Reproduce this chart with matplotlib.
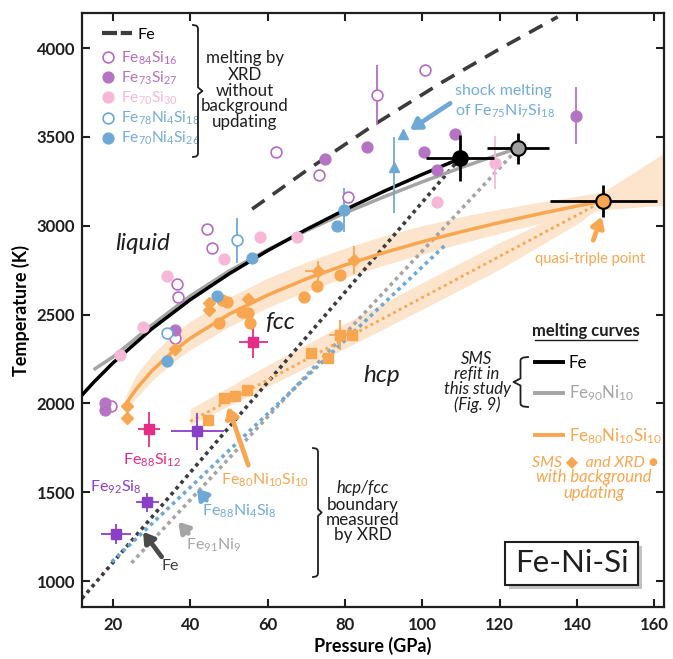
import matplotlib
matplotlib.use("Agg")
import matplotlib.pyplot as plt
from matplotlib.lines import Line2D
from matplotlib.patches import Rectangle

plt.rcParams['font.family'] = ['Lato', 'DejaVu Sans']
plt.rcParams['mathtext.fontset'] = 'custom'
plt.rcParams['mathtext.rm'] = 'Lato'
plt.rcParams['mathtext.it'] = 'Lato:italic'
plt.rcParams['mathtext.bf'] = 'Lato:bold'

W, H = 673, 659

# ---------------- colours ----------------
ORANGE = '#f8a64f'
PEACH = '#fde4cd'
BLUE = '#6ea9d6'
BLUE_TXT = '#74acd9'
GRAY = '#a5a5a5'
DARK = '#3c3c3c'
VIOLET = '#b66cc6'
PURPLE_FILL = '#b574c3'
PINK = '#f6b8d6'
MAGENTA = '#e52d86'
PURPLE = '#8b3fc6'
INK = '#1e1e1e'

# ---------------- melting curves (SMS refit) ----------------
fe_melt_P = [12, 15, 20, 30, 40, 50, 60, 70, 80, 90, 100, 110]
fe_melt_T = [2047, 2119, 2228, 2419, 2584, 2729, 2860, 2979, 3090, 3193, 3289, 3380]
feni_melt_P = [15, 20, 25, 30, 40, 50, 60, 70, 80, 90, 100, 110, 120, 124.8]
feni_melt_T = [2190, 2262, 2350, 2440, 2605, 2745, 2865, 2972, 3072, 3162, 3247, 3327, 3402, 3437]
fns_melt_P = [23.4, 26, 30, 35, 40, 50, 60, 70, 80, 90, 100, 110, 120, 130, 140, 146.8]
fns_melt_T = [2000, 2081, 2182, 2283, 2367, 2502, 2610, 2701, 2779, 2848, 2910, 2966,
              3018, 3066, 3111, 3139]
# uncertainty envelope of the Fe80Ni10Si10 melting curve (extrapolated past the triple point)
fns_band_P = [23.4, 26, 30, 35, 40, 50, 60, 70, 80, 90, 100, 110, 120, 130, 140, 146.8, 162.5]
fns_band_lo = [1960, 2031, 2127, 2223, 2302, 2432, 2540, 2631, 2709, 2778, 2840, 2901,
               2958, 3011, 3061, 3090, 3116]
fns_band_hi = [2045, 2161, 2272, 2378, 2462, 2597, 2705, 2796, 2874, 2943, 3000, 3051,
               3093, 3131, 3166, 3190, 3409]

# Fe melting curve from XRD (dashed)
fe_xrd_P = [56, 70, 88, 105, 120, 135]
fe_xrd_T = [3094, 3310, 3575, 3806, 3995, 4175]

# ---------------- hcp/fcc boundaries (XRD) ----------------
fe_bd_P, fe_bd_T = [12, 109.8], [903, 3381]
feni_bd_P, feni_bd_T = [24.8, 124.8], [1103, 3437]
fenisi_bd_P, fenisi_bd_T = [19.7, 105.9], [1109, 2891]
fns_bd_P, fns_bd_T = [40, 146.8], [1900, 3139]
fns_bd_band_P = [40, 60, 80, 100, 120, 140, 146.8]
fns_bd_band_lo = [1880, 2095, 2310, 2530, 2755, 3010, 3120]
fns_bd_band_hi = [1970, 2215, 2450, 2680, 2905, 3110, 3160]

# ---------------- triple points ----------------
trip_P = [109.8, 124.8, 146.8]
trip_T = [3381, 3437, 3139]
trip_Perr = [8.8, 8.0, 13.9]
trip_Terr = [127, 87, 90]
trip_face = ['black', '#a0a0a0', ORANGE]

# ---------------- melting by XRD without background updating ----------------
fe84si16_P = [19.4, 36.0, 36.6, 36.9, 44.2, 45.5, 62.2, 73.4, 80.7, 88.2, 100.7]
fe84si16_T = [1985, 2370, 2670, 2600, 2981, 2876, 3413, 3285, 3163, 3736, 3876]
fe84si16_err = [0, 0, 0, 0, 0, 0, 0, 0, 0, 169, 0]
fe73si27_P = [17.9, 17.9, 36.0, 74.9, 85.8, 100.5, 103.7, 108.5, 139.7]
fe73si27_T = [2000, 1963, 2413, 3374, 3445, 3417, 3313, 3516, 3619]
fe73si27_err = [0, 0, 0, 0, 0, 0, 0, 0, 160]
fe70si30_P = [21.9, 27.8, 33.9, 48.7, 57.9, 67.7, 103.9, 118.8]
fe70si30_T = [2272, 2431, 2717, 2811, 2935, 2935, 3132, 3355]
fe70si30_err = [0, 0, 0, 0, 0, 0, 0, 150]
fe78ni4si18_P = [33.9, 52.0]
fe78ni4si18_T = [2394, 2919]
fe78ni4si18_err = [0, 127]
fe70ni4si26_P = [33.9, 46.8, 55.9, 77.9, 79.8]
fe70ni4si26_T = [2240, 2604, 2816, 3000, 3088]
fe70ni4si26_err = [0, 0, 0, 0, 122]

# shock melting of Fe75Ni7Si18
shock_P = [92.7, 95.0]
shock_T = [3332, 3516]
shock_err_lo = [262, 0]
shock_err_hi = [169, 0]

# ---------------- Fe-Si hcp/fcc data ----------------
fe92si8_P = [20.8, 28.9, 41.8]
fe92si8_T = [1265, 1443, 1844]
fe92si8_Perr = [4.0, 2.9, 6.9]
fe92si8_Terr = [56, 53, 103]
fe88si12_P = [29.3, 56.3]
fe88si12_T = [1854, 2347]
fe88si12_Perr = [2.8, 3.7]
fe88si12_Terr = [97, 89]

# ---------------- Fe80Ni10Si10 with background updating ----------------
sms_P = [23.7, 23.7, 36.0, 44.9, 44.9, 55.0, 73.1, 82.3]
sms_T = [1985, 1916, 2308, 2563, 2525, 2589, 2745, 2807]
sms_Perr = [0, 0, 1.5, 0, 0, 0, 3.4, 1.5]
sms_Terr = [0, 0, 40, 0, 0, 0, 56, 80]
xrd_liq_P = [47.3, 48.3, 49.6, 53.3, 55.0, 55.4, 69.4, 72.7, 78.7]
xrd_liq_T = [2454, 2585, 2570, 2516, 2507, 2451, 2600, 2661, 2722]
xrd_bd_P = [44.7, 48.6, 51.6, 54.7, 71.2, 75.7, 78.6, 81.8]
xrd_bd_T = [1905, 2031, 2040, 2075, 2283, 2254, 2385, 2383]
xrd_bd_Perr = [0, 0, 0, 0, 0, 0, 2.8, 0]
xrd_bd_Terr = [0, 0, 0, 0, 0, 0, 84, 0]

xticks = [20, 40, 60, 80, 100, 120, 140, 160]
yticks = [1000, 1500, 2000, 2500, 3000, 3500, 4000]

# ======================================================================
fig = plt.figure(figsize=(W / 100, H / 100), dpi=100)
ax = fig.add_axes([82 / W, 1 - 607 / H, 582 / W, 594 / H])
ax.set_xlim(12, 162.5)
ax.set_ylim(855, 4197)


def fx(x):
    return x / W


def fy(y):
    return 1 - y / H


def ftext(x, y, s, **kw):
    kw.setdefault('ha', 'center')
    kw.setdefault('va', 'center')
    return fig.text(fx(x), fy(y), s, **kw)


# bands
ax.fill_between(fns_band_P, fns_band_lo, fns_band_hi, color=PEACH, lw=0, zorder=1)
ax.fill_between(fns_bd_band_P, fns_bd_band_lo, fns_bd_band_hi, color=PEACH, lw=0, zorder=1)

# hcp/fcc boundaries
dot = dict(lw=2.6, ls=(0, (1, 1.1)), dash_capstyle='butt', zorder=2)
ax.plot(fe_bd_P, fe_bd_T, color=DARK, **dot)
ax.plot(feni_bd_P, feni_bd_T, color=GRAY, **dot)
ax.plot(fenisi_bd_P, fenisi_bd_T, color=BLUE, **dot)
ax.plot(fns_bd_P, fns_bd_T, color=ORANGE, lw=2.0, ls=(0, (1, 1.3)), zorder=2)

# melting curves
ax.plot(fe_xrd_P, fe_xrd_T, color=DARK, lw=2.6, ls=(0, (4.2, 2.8)), zorder=3)
ax.plot(feni_melt_P, feni_melt_T, color=GRAY, lw=2.5, zorder=3, solid_capstyle='butt')
ax.plot(fe_melt_P, fe_melt_T, color='black', lw=2.5, zorder=3, solid_capstyle='butt')
ax.plot(fns_melt_P, fns_melt_T, color=ORANGE, lw=2.5, zorder=3, solid_capstyle='butt')

ms_c = 7.8
# XRD melting, no background updating
ax.errorbar(fe84si16_P, fe84si16_T, yerr=fe84si16_err, fmt='o', ms=ms_c, mfc='white',
            mec=VIOLET, mew=1.2, ecolor=VIOLET, elinewidth=1.3, zorder=4)
ax.errorbar(fe73si27_P, fe73si27_T, yerr=fe73si27_err, fmt='o', ms=ms_c, mfc=PURPLE_FILL,
            mec=PURPLE_FILL, ecolor=PURPLE_FILL, elinewidth=1.3, zorder=4)
ax.errorbar(fe70si30_P, fe70si30_T, yerr=fe70si30_err, fmt='o', ms=ms_c, mfc=PINK,
            mec=PINK, ecolor=PINK, elinewidth=1.3, zorder=4)
ax.errorbar(fe78ni4si18_P, fe78ni4si18_T, yerr=fe78ni4si18_err, fmt='o', ms=ms_c, mfc='white',
            mec=BLUE, mew=1.2, ecolor=BLUE, elinewidth=1.3, zorder=4)
ax.errorbar(fe70ni4si26_P, fe70ni4si26_T, yerr=fe70ni4si26_err, fmt='o', ms=ms_c, mfc=BLUE,
            mec=BLUE, ecolor=BLUE, elinewidth=1.3, zorder=4)
ax.errorbar(shock_P, shock_T, yerr=[shock_err_lo, shock_err_hi], fmt='^', ms=7.5, mfc=BLUE,
            mec=BLUE, ecolor=BLUE, elinewidth=1.3, zorder=4)

# Fe-Si boundary points
ax.errorbar(fe92si8_P, fe92si8_T, xerr=fe92si8_Perr, yerr=fe92si8_Terr, fmt='s', ms=6.5,
            color=PURPLE, elinewidth=1.3, zorder=4)
ax.errorbar(fe88si12_P, fe88si12_T, xerr=fe88si12_Perr, yerr=fe88si12_Terr, fmt='s', ms=6.5,
            color=MAGENTA, elinewidth=1.3, zorder=4)

# Fe80Ni10Si10
ax.errorbar(xrd_bd_P, xrd_bd_T, xerr=xrd_bd_Perr, yerr=xrd_bd_Terr, fmt='s', ms=6.5,
            color=ORANGE, elinewidth=1.3, zorder=4)
ax.errorbar(sms_P, sms_T, xerr=sms_Perr, yerr=sms_Terr, fmt='D', ms=6.5,
            color=ORANGE, elinewidth=1.3, zorder=4)
ax.plot(xrd_liq_P, xrd_liq_T, 'o', ms=ms_c, color=ORANGE, zorder=4)

# triple points
for p, t, pe, te, fc in zip(trip_P, trip_T, trip_Perr, trip_Terr, trip_face):
    ax.errorbar([p], [t], xerr=[pe], yerr=[te], fmt='o', ms=10.5, mfc=fc, mec='black',
                mew=1.5, ecolor='black', elinewidth=2.0, zorder=6)

# axes styling
ax.set_xticks(xticks)
ax.set_yticks(yticks)
ax.set_xticklabels([str(v) for v in xticks], fontsize=12, fontweight='bold')
ax.set_yticklabels([str(v) for v in yticks], fontsize=12, fontweight='bold')
ax.tick_params(direction='in', length=6, width=1.5, top=True, right=True, colors=INK)
ax.tick_params(axis='x', pad=7)
ax.tick_params(axis='y', pad=5)
for sp in ax.spines.values():
    sp.set_linewidth(1.6)
    sp.set_color(INK)
ax.set_xlabel('Pressure (GPa)', fontsize=13, fontweight='bold', labelpad=3)
ax.set_ylabel('Temperature (K)', fontsize=13, fontweight='bold', labelpad=5)

LF = 11.2
# legends: melting by XRD without background updating
leg_fe = ax.legend(handles=[Line2D([], [], color=DARK, lw=3.0, ls=(0, (3.6, 0.9)))],
                   labels=['Fe'], loc='upper left', bbox_to_anchor=(0.034, 0.975),
                   frameon=False, fontsize=11.6, handlelength=1.9, handletextpad=0.3,
                   borderpad=0, borderaxespad=0)
ax.add_artist(leg_fe)
mk = dict(ls='none', marker='o', ms=ms_c)
mk_handles = [
    Line2D([], [], mfc='white', mec=VIOLET, mew=1.2, **mk),
    Line2D([], [], mfc=PURPLE_FILL, mec=PURPLE_FILL, **mk),
    Line2D([], [], mfc=PINK, mec=PINK, **mk),
    Line2D([], [], mfc='white', mec=BLUE, mew=1.2, **mk),
    Line2D([], [], mfc=BLUE, mec=BLUE, **mk),
]
mk_labels = [r'$\mathregular{Fe_{84}Si_{16}}$', r'$\mathregular{Fe_{73}Si_{27}}$',
             r'$\mathregular{Fe_{70}Si_{30}}$', r'$\mathregular{Fe_{78}Ni_{4}Si_{18}}$',
             r'$\mathregular{Fe_{70}Ni_{4}Si_{26}}$']
leg_mk = ax.legend(handles=mk_handles, labels=mk_labels, loc='upper left',
                   bbox_to_anchor=(0.030, 0.938), frameon=False, fontsize=LF,
                   handlelength=1.04, handletextpad=0.33, labelspacing=0.17,
                   borderpad=0, borderaxespad=0,
                   labelcolor=[VIOLET, PURPLE_FILL, PINK, BLUE_TXT, BLUE_TXT])
ax.add_artist(leg_mk)

# legends: melting curves
leg_c1 = ax.legend(handles=[Line2D([], [], color='black', lw=2.8),
                            Line2D([], [], color=GRAY, lw=2.8)],
                   labels=['Fe', r'$\mathregular{Fe_{90}Ni_{10}}$'],
                   loc='upper left', bbox_to_anchor=((535 - 82) / 582, (607 - 355) / 594),
                   frameon=False, fontsize=12.2, handlelength=1.65, handletextpad=0.35,
                   labelspacing=0.75, borderpad=0, borderaxespad=0,
                   labelcolor=['black', GRAY])
ax.add_artist(leg_c1)
ax.legend(handles=[Line2D([], [], color=ORANGE, lw=2.8)],
          labels=[r'$\mathregular{Fe_{80}Ni_{10}Si_{10}}$'],
          loc='upper left', bbox_to_anchor=((535 - 82) / 582, (607 - 426) / 594),
          frameon=False, fontsize=12.2, handlelength=1.65, handletextpad=0.35,
          borderpad=0, borderaxespad=0, labelcolor=[ORANGE])


# braces
def brace(x, y0, y1, tipdir, w=5, tip=4, color=INK):
    ym = (y0 + y1) / 2
    r = 3.5
    xs = [x - tipdir * w, x - tipdir * w * 0.35, x - tipdir * 0.4, x, x, x + tipdir * tip,
          x, x, x - tipdir * 0.4, x - tipdir * w * 0.35, x - tipdir * w]
    ys = [y0, y0 + 0.6, y0 + 2, y0 + r, ym - r, ym, ym + r, y1 - r, y1 - 2, y1 - 0.6, y1]
    fig.add_artist(Line2D([fx(v) for v in xs], [fy(v) for v in ys], color=color, lw=1.3,
                          transform=fig.transFigure, solid_joinstyle='round'))


brace(198, 25, 157, +1, w=5, tip=4.4)
brace(318, 448, 577, +1, w=5, tip=3.6)
brace(520.5, 357, 407, -1, w=7.5, tip=7)

# text annotations
ftext(245, 90.5, 'melting by\nXRD\nwithout\nbackground\nupdating', fontsize=12.2,
      linespacing=1.0, color=INK)
ftext(363, 488, 'hcp/fcc', fontsize=12, style='italic', color=INK)
ftext(363, 520, 'boundary\nmeasured\nby XRD', fontsize=12.3, linespacing=0.93, color=INK)
ftext(477, 382, 'SMS\nrefit in\nthis study\n(Fig. 9)', fontsize=12, style='italic',
      linespacing=0.93, color=INK)
ftext(586, 331, 'melting curves', fontsize=12, fontweight='bold', color=INK)
fig.add_artist(Line2D([fx(535), fx(637)], [fy(339.5), fy(339.5)], color=INK, lw=1.0,
                      transform=fig.transFigure))
ftext(595, 462, 'SMS \u25c6  and XRD \u25cf', fontsize=11.5, style='italic', color=ORANGE)
ftext(594, 485, 'with background\nupdating', fontsize=12, style='italic', color=ORANGE,
      linespacing=0.93)

ftext(142.5, 244, 'liquid', fontsize=17.5, style='italic', color=INK)
ftext(280, 322, 'fcc', fontsize=17.5, style='italic', color=INK)
ftext(382, 376, 'hcp', fontsize=17.5, style='italic', color=INK)

ftext(152, 460, r'$\mathregular{Fe_{88}Si_{12}}$', fontsize=11.5, color=MAGENTA)
ftext(116, 487, r'$\mathregular{Fe_{92}Si_{8}}$', fontsize=11.5, color=PURPLE)
ftext(265, 480, r'$\mathregular{Fe_{80}Ni_{10}Si_{10}}$', fontsize=11.5, color=ORANGE)
ftext(239, 511, r'$\mathregular{Fe_{88}Ni_{4}Si_{8}}$', fontsize=11.5, color=BLUE_TXT)
ftext(214, 545, r'$\mathregular{Fe_{91}Ni_{9}}$', fontsize=11.5, color=GRAY)
ftext(170, 566, 'Fe', fontsize=11.5, color=DARK)
ftext(590, 259, 'quasi-triple point', fontsize=10.5, color=ORANGE)
ftext(455, 91, 'shock melting', fontsize=11.5, color=BLUE_TXT, ha='left')
ftext(455, 111, r'of $\mathregular{Fe_{75}Ni_{7}Si_{18}}$', fontsize=11.5, color=BLUE_TXT,
      ha='left')


# arrows (data coordinates)
def arrow(tail, tip, color):
    ax.annotate('', xy=tip, xytext=tail,
                arrowprops=dict(arrowstyle='-|>,head_length=0.6,head_width=0.38',
                                color=color, lw=3.4, shrinkA=0, shrinkB=0),
                zorder=7)


arrow((107.2, 3689), (96.8, 3539), BLUE)
arrow((144.2, 2919), (146.4, 3051), ORANGE)
arrow((55.0, 1653), (49.8, 1981), ORANGE)
arrow((44.2, 1456), (41.7, 1522), BLUE)
arrow((39.5, 1269), (36.9, 1334), GRAY)
arrow((32.6, 1137), (27.8, 1278), '#4a4a4a')

# boxed system label with drop shadow
fig.add_artist(Rectangle((fx(509), fy(589)), fx(133), 43 / H, transform=fig.transFigure,
                         facecolor='#9a9a9a', edgecolor='none', alpha=0.6, zorder=8))
fig.add_artist(Rectangle((fx(505), fy(585)), fx(133), 43 / H, transform=fig.transFigure,
                         facecolor='white', edgecolor=INK, lw=1.5, zorder=9))
ftext(571.5, 563.5, 'Fe-Ni-Si', fontsize=22.5, color=INK, zorder=10)

fig.savefig('out.png', dpi=100)
